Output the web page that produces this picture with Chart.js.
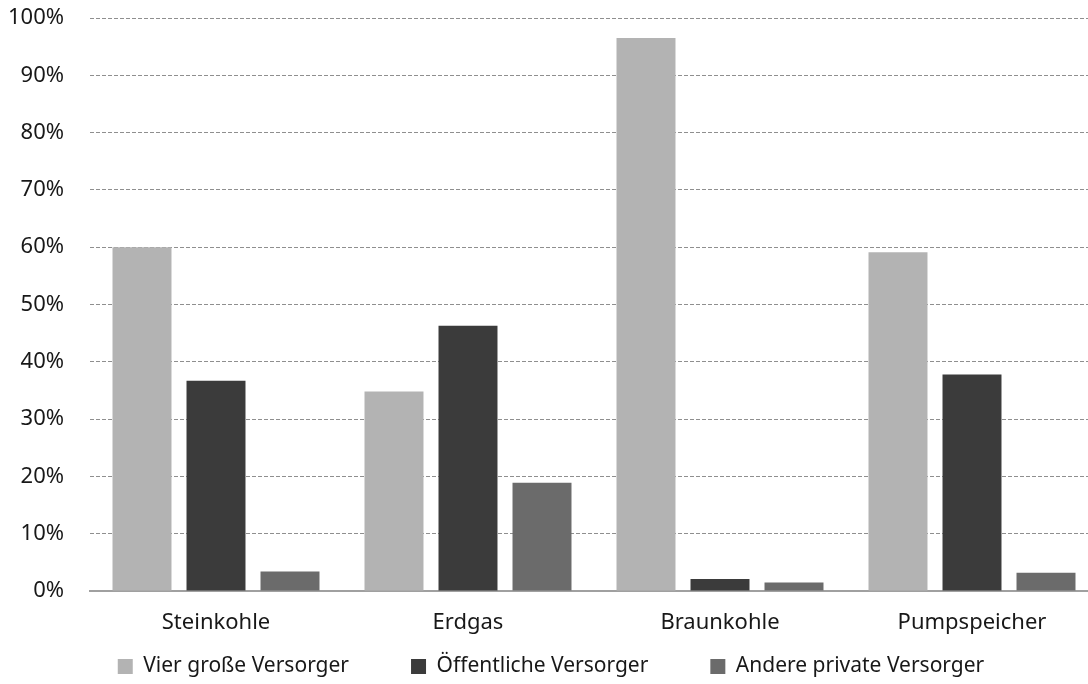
<!DOCTYPE html>
<html>
<head>
<meta charset="utf-8">
<script src="https://cdn.jsdelivr.net/npm/chart.js@4.4.1/dist/chart.umd.min.js"></script>
<style>
  html, body { margin: 0; padding: 0; background: #ffffff; }
  #wrap { width: 1088px; height: 684px; }
</style>
</head>
<body>
<div id="wrap"><canvas id="c" width="1088" height="684"></canvas></div>
<script>
// Anteile der Erzeugungskapazität nach Versorgertyp (in %)
const categories = ['Steinkohle', 'Erdgas', 'Braunkohle', 'Pumpspeicher'];
const seriesNames = ['Vier große Versorger', 'Öffentliche Versorger', 'Andere private Versorger'];
const vierGrosse = [60.0, 34.8, 96.5, 59.1];
const oeffentliche = [36.7, 46.3, 2.1, 37.8];
const andere = [3.4, 18.9, 1.5, 3.2];
const yTicks = [0, 10, 20, 30, 40, 50, 60, 70, 80, 90, 100];

const colors = ['#b3b3b3', '#3b3b3b', '#6b6b6b'];
const FONT = '"Noto Sans", sans-serif';
const TEXT = '#181818';

// The category axis runs a little past the right edge of the canvas;
// the legend row sits right under the category labels.
const layoutTweaks = {
  id: 'layoutTweaks',
  afterLayout(chart) {
    const xs = chart.scales.x;
    xs.right += 10;
    xs.width += 10;
    xs.configure();
    const lg = chart.legend;
    if (!lg) return;
    lg.top = chart.chartArea.bottom + 3;
    lg.bottom = chart.height;
    lg.height = lg.bottom - lg.top;
    lg.left += 7;
    lg.right += 7;
  }
};

const ctx = document.getElementById('c').getContext('2d');
new Chart(ctx, {
  type: 'bar',
  data: {
    labels: categories,
    datasets: [vierGrosse, oeffentliche, andere].map((vals, i) => ({
      label: seriesNames[i],
      data: vals,
      backgroundColor: colors[i],
      borderWidth: 0,
      categoryPercentage: 0.881,
      barPercentage: 0.797
    }))
  },
  plugins: [layoutTweaks],
  options: {
    responsive: false,
    animation: false,
    layout: { padding: { top: 18, right: 0, bottom: 0, left: 0 } },
    plugins: {
      tooltip: { enabled: false },
      legend: {
        position: 'bottom',
        maxHeight: 46,
        labels: {
          boxWidth: 15,
          boxHeight: 15,
          padding: 62,
          color: TEXT,
          font: { family: FONT, size: 21, lineHeight: 1 }
        }
      }
    },
    scales: {
      x: {
        grid: { display: false, drawTicks: false },
        border: { display: true, color: '#a0a0a0', width: 2 },
        ticks: {
          color: TEXT,
          font: { family: FONT, size: 22 },
          padding: 19,
          autoSkip: false,
          maxRotation: 0,
          minRotation: 0
        },
        afterFit: (s) => { s.height = 47; }
      },
      y: {
        min: 0,
        max: 100,
        afterBuildTicks: (s) => { s.ticks = yTicks.map(v => ({ value: v })); },
        grid: { color: '#8f8f8f', lineWidth: 1, drawTicks: false },
        border: { display: false, dash: [4, 2] },
        ticks: {
          color: TEXT,
          font: { family: FONT, size: 22 },
          padding: 26,
          callback: (v) => v + '%'
        },
        afterFit: (s) => { s.width = 90; s.paddingTop = 0; s.paddingBottom = 0; }
      }
    }
  }
});
</script>
</body>
</html>
